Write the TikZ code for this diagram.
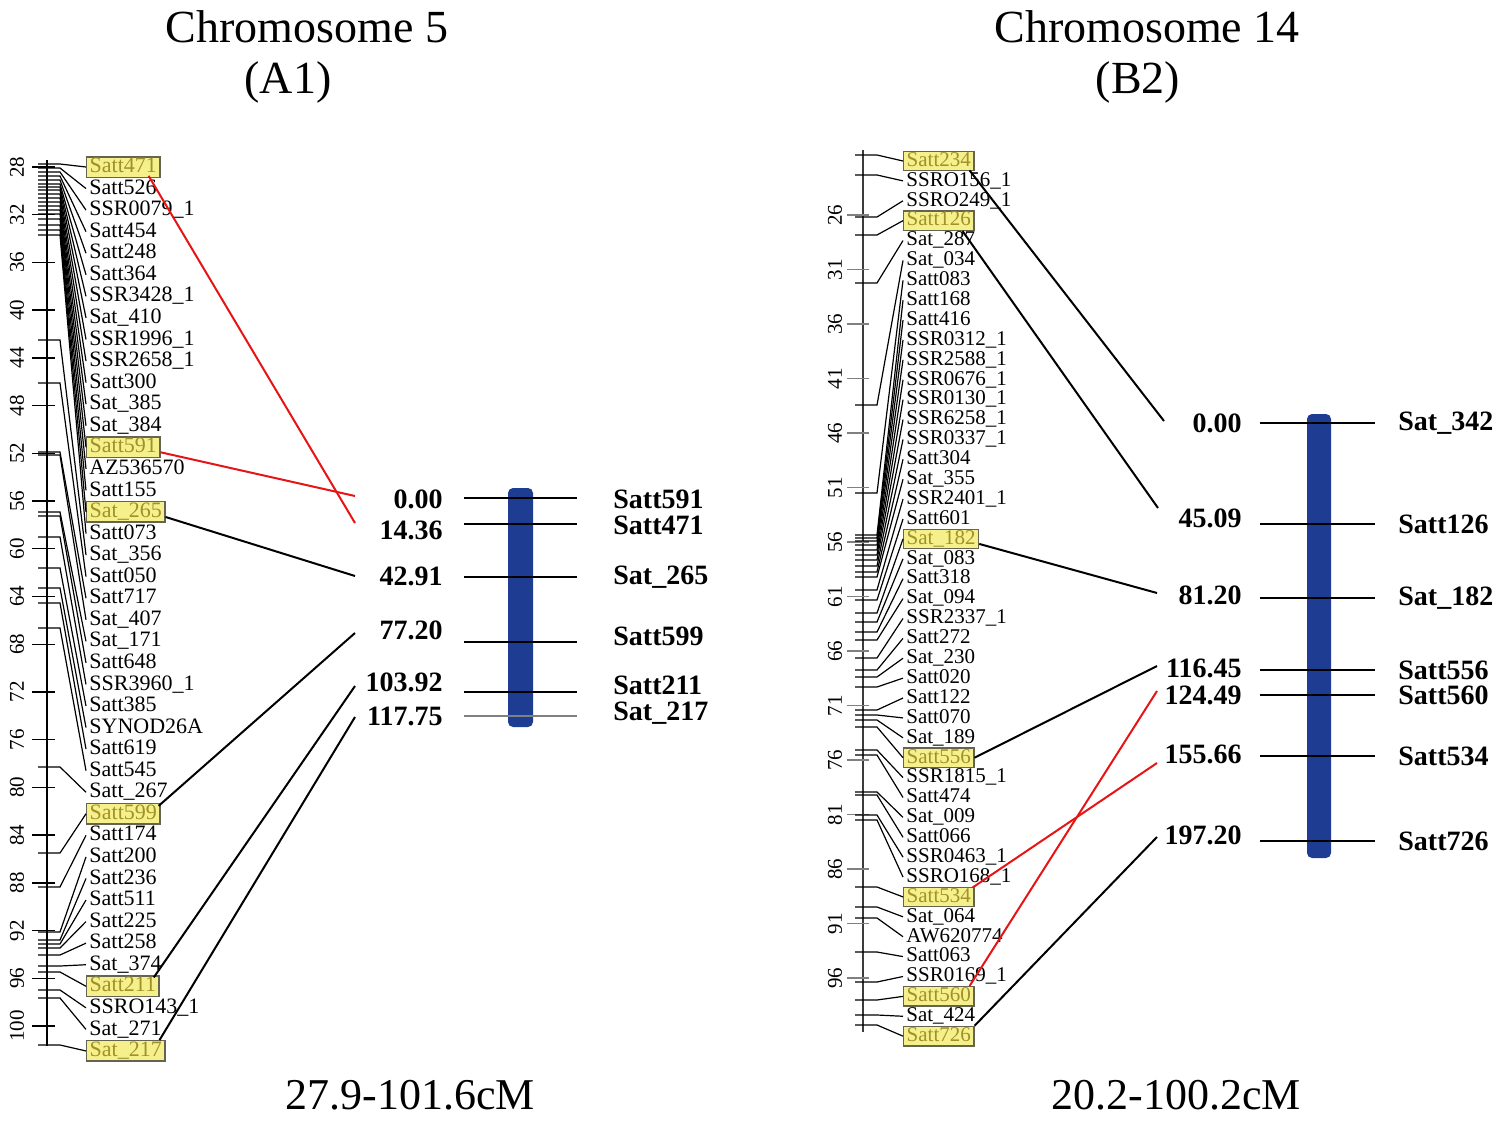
\documentclass[tikz,border=0pt]{standalone}
\usepackage{fontspec}
\setmainfont{Liberation Serif}
\usetikzlibrary{calc}
\definecolor{boxfill}{RGB}{245,240,140}
\definecolor{boxtext}{RGB}{160,145,40}
\definecolor{boxdraw}{RGB}{100,100,80}
\definecolor{barblue}{RGB}{30,60,145}
\definecolor{conred}{RGB}{230,20,20}
\definecolor{axisgray}{RGB}{60,60,60}
\begin{document}
\begin{tikzpicture}[x=0.5pt,y=-0.5pt,
  lab/.style={anchor=west, inner xsep=1.5pt, inner ysep=0.3pt, text height=7.6pt, text depth=2pt, font=\fontsize{11}{11}\selectfont},
  rlab/.style={lab, font=\fontsize{10.5}{10.5}\selectfont, text height=7.2pt, text depth=1.9pt},
  hl/.style={draw=boxdraw, fill=boxfill, text=boxtext, line width=0.7pt},
  nb/.style={},
  leader/.style={line width=0.6pt},
  scalenum/.style={rotate=90, font=\fontsize{10.5}{10.5}\selectfont, inner sep=0pt},
  conn/.style={line width=1pt},
  pnum/.style={anchor=east, inner sep=0pt, font=\fontsize{14}{14}\selectfont\bfseries},
  pname/.style={anchor=west, inner sep=0pt, font=\fontsize{14}{14}\selectfont\bfseries},
  pline/.style={line width=0.6pt},
  titletxt/.style={font=\fontsize{23}{23}\selectfont, inner sep=0pt},
  rangetxt/.style={font=\fontsize{22}{22}\selectfont, inner sep=0pt}]
\useasboundingbox (0,0) rectangle (1500,1141);

% ---------- titles ----------
\node[titletxt] (t1) at (307,27) {Chromosome 5};
\node[titletxt] (t1b) at (288,82) {(A1)};
\node[titletxt] (t2) at (1147,27) {Chromosome 14};
\node[titletxt] (t2b) at (1138,82) {(B2)};
\node[rangetxt] (r1) at (410,1095) {27.9-101.6cM};
\node[rangetxt] (r2) at (1176,1095) {20.2-100.2cM};

% ---------- left linkage group ----------
\draw[line width=1pt] (47,160) -- (47,1046);
\foreach \v in {28,32,...,100} {
  \draw[line width=0.7pt] (32,{167+(\v-28)*11.93}) -- (55,{167+(\v-28)*11.93});
  \node[scalenum] (ls\v) at (17,{167+(\v-28)*11.93}) {\v};
}
\foreach \i/\m/\t/\s in {
 1/164/Satt471/hl, 2/168/Satt526/nb, 3/172/SSR0079\_1/nb, 4/176/Satt454/nb,
 5/180/Satt248/nb, 6/184/Satt364/nb, 7/187/SSR3428\_1/nb, 8/190/Sat\_410/nb,
 9/194/SSR1996\_1/nb, 10/198/SSR2658\_1/nb, 11/202/Satt300/nb, 12/206/Sat\_385/nb,
 13/210/Sat\_384/nb, 14/214/Satt591/hl, 15/219/AZ536570/nb, 16/225/Satt155/nb,
 17/230/Sat\_265/hl, 18/235/Satt073/nb, 19/340/Sat\_356/nb, 20/383/Satt050/nb,
 21/452/Satt717/nb, 22/455/Sat\_407/nb, 23/512/Sat\_171/nb, 24/516/Satt648/nb,
 25/537/SSR3960\_1/nb, 26/568/Satt385/nb, 27/588/SYNOD26A/nb, 28/603/Satt619/nb,
 29/628/Satt545/nb, 30/767/Satt\_267/nb, 31/853/Satt599/hl, 32/887/Satt174/nb,
 33/932/Satt200/nb, 34/940/Satt236/nb, 35/944/Satt511/nb, 36/948/Satt225/nb,
 37/955/Satt258/nb, 38/966/Sat\_374/nb, 39/972/Satt211/hl, 40/990/SSRO143\_1/nb,
 41/998/Sat\_271/nb, 42/1045/Sat\_217/hl} {
  \node[lab,\s] (L\i) at (86,{167+(\i-1)*21.56}) {\t};
  \draw[leader] (38,\m) -- (60,\m) -- (L\i.west);
}

% ---------- right linkage group ----------
\draw[line width=1pt, axisgray] (863,150) -- (863,1032);
\foreach \v in {26,31,...,96} {
  \draw[line width=0.6pt, gray] (847,{215+(\v-26)*10.9}) -- (869,{215+(\v-26)*10.9});
  \node[scalenum] (rs\v) at (835,{215+(\v-26)*10.9}) {\v};
}
\foreach \i/\m/\t/\s in {
 1/155/Satt234/hl, 2/175/SSRO156\_1/nb, 3/217/SSRO249\_1/nb, 4/235/Satt126/hl,
 5/283/Sat\_287/nb, 6/405/Sat\_034/nb, 7/493/Satt083/nb, 8/535/Satt168/nb,
 9/538/Satt416/nb, 10/541/SSR0312\_1/nb, 11/545/SSR2588\_1/nb, 12/550/SSR0676\_1/nb,
 13/555/SSR0130\_1/nb, 14/560/SSR6258\_1/nb, 15/566/SSR0337\_1/nb, 16/572/Satt304/nb,
 17/577/Sat\_355/nb, 18/590/SSR2401\_1/nb, 19/600/Satt601/nb, 20/613/Sat\_182/hl,
 21/622/Sat\_083/nb, 22/632/Satt318/nb, 23/640/Sat\_094/nb, 24/658/SSR2337\_1/nb,
 25/670/Satt272/nb, 26/677/Sat\_230/nb, 27/687/Satt020/nb, 28/710/Satt122/nb,
 29/715/Satt070/nb, 30/720/Sat\_189/nb, 31/727/Satt556/hl, 32/750/SSR1815\_1/nb,
 33/755/Satt474/nb, 34/792/Sat\_009/nb, 35/795/Satt066/nb, 36/815/SSR0463\_1/nb,
 37/820/SSRO168\_1/nb, 38/887/Satt534/hl, 39/907/Sat\_064/nb, 40/918/AW620774/nb,
 41/952/Satt063/nb, 42/982/SSR0169\_1/nb, 43/1000/Satt560/hl, 44/1015/Sat\_424/nb,
 45/1025/Satt726/hl} {
  \node[rlab,\s] (R\i) at (903,{161+(\i-1)*19.89}) {\t};
  \draw[leader] (855,\m) -- (877,\m) -- (R\i.west);
}

% ---------- left physical map ----------
\fill[barblue, rounded corners=2.5pt] (508,488) rectangle (533,727);
\foreach \j/\y/\ny/\n/\nmy/\nm/\c in {
 1/498/499/0.00/499/Satt591/black, 2/524/530/14.36/525/Satt471/black,
 3/577/576/42.91/577/Sat\_265/black, 4/642/630/77.20/636/Satt599/black,
 5/692/682/103.92/685/Satt211/black, 6/716/716/117.75/713/Sat\_217/gray} {
  \draw[pline, \c] (464,\y) -- (577,\y);
  \node[pnum] (pa\j) at (443,\ny) {\n};
  \node[pname] (pb\j) at (613,\nmy) {\nm};
}

% ---------- right physical map ----------
\fill[barblue, rounded corners=2.5pt] (1307,414) rectangle (1331,858);
\foreach \j/\y/\ny/\n/\nm in {
 1/423/423/0.00/Sat\_342, 2/524/518/45.09/Satt126, 3/598/595/81.20/Sat\_182,
 4/670/668/116.45/Satt556, 5/695/695/124.49/Satt560, 6/756/754/155.66/Satt534,
 7/841/835/197.20/Satt726} {
  \draw[pline] (1260,\y) -- (1375,\y);
  \node[pnum] (qa\j) at (1242,\ny) {\n};
  \node[pname] (qb\j) at (1398,\y) {\nm};
}

% ---------- connector end points ----------
\coordinate (c1) at (355,523);
\coordinate (c2) at (355,496);
\coordinate (c3) at (355,576);
\coordinate (c4) at (355,633);
\coordinate (c5) at (355,686);
\coordinate (c6) at (355,717);
\coordinate (d1) at (1164,421);
\coordinate (d2) at (1158,508);
\coordinate (d3) at (1157,593);
\coordinate (d4) at (1157,666);
\coordinate (d5) at (1157,691);
\coordinate (d6) at (1157,763);
\coordinate (d7) at (1157,837);

% ---------- connectors ----------
\draw[conn, conred] ($(L1.south east)+(-12,-2)$) -- (c1);
\draw[conn, conred] ($(L14.east)+(0,5)$) -- (c2);
\draw[conn] ($(L17.east)+(0,5)$) -- (c3);
\draw[conn] ($(L31.north east)+(-2,3)$) -- (c4);
\draw[conn] ($(L39.north east)+(-6,2)$) -- (c5);
\draw[conn] ($(L42.north east)+(-6,0)$) -- (c6);

\draw[conn] ($(R1.south east)+(-5,-1)$) -- (d1);
\draw[conn] ($(R4.south east)+(-12,0)$) -- (d2);
\draw[conn] ($(R20.east)+(0,5)$) -- (d3);
\draw[conn] (R31.east) -- (d4);
\draw[conn, conred] ($(R38.north east)+(-2,1)$) -- (d6);
\draw[conn, conred] ($(R43.north east)+(-5,0)$) -- (d5);
\draw[conn] (R45.north east) -- (d7);
\end{tikzpicture}
\end{document}
